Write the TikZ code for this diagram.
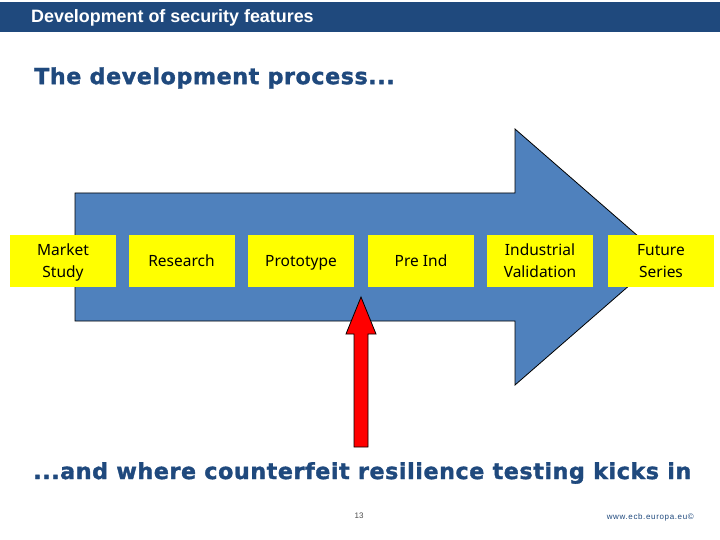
\documentclass[tikz,border=0pt]{standalone}
\usepackage{fontspec}
\setmainfont{Liberation Sans}
\newfontfamily\boxfont{Noto Sans}
\newfontfamily\headfont{DejaVu Sans}[LetterSpace=2.6,FakeBold=1.5]
\definecolor{navy}{HTML}{1F497D}
\definecolor{arrowblue}{HTML}{4F81BD}
\definecolor{boxyellow}{HTML}{FFFF00}
\tikzset{
  px/.style={x=1pt,y=-1pt},
  stage/.style={fill=boxyellow,draw=none,minimum width=106pt,minimum height=52pt,inner sep=0pt,align=center,
    font=\boxfont\fontsize{15.5}{22}\selectfont,text=black},
  heading/.style={anchor=west,inner sep=0pt,text=navy,font=\headfont\bfseries\fontsize{22.2}{26}\selectfont},
  flow/.style={fill=arrowblue,draw=black,line width=0.8pt,line join=miter},
  marker/.style={fill=red,draw=black,line width=0.8pt,line join=miter},
}
\begin{document}
\begin{tikzpicture}[px]
\useasboundingbox (0,0) rectangle (720,540);
\fill[white] (0,0) rectangle (720,540);
\fill[navy] (0,2) rectangle (720,32);
\node[anchor=west,inner sep=0pt,text=white,font=\bfseries\fontsize{17.9}{20}\selectfont] (bar) at (31,17.6) {Development of security features};
\node[heading] (top) at (34,78) {The development process...};
\draw[flow] (75,193) -- (515,193) -- (515,129) -- (662,257) -- (515,385) -- (515,321) -- (75,321) -- cycle;
\node[stage] (s1) at (63,261) {};
\node[stage] (s2) at (181.5,261) {};
\node[stage] (s3) at (301,261) {};
\node[stage] (s4) at (421,261) {};
\node[stage] (s5) at (540,261) {};
\node[stage] (s6) at (661,261) {};
\node[stage,fill=none] at (63,262.5) {\strut Market\\\strut Study};
\node[stage,fill=none] at (181.5,262.5) {\strut Research};
\node[stage,fill=none] at (301,262.5) {\strut Prototype};
\node[stage,fill=none] at (421,262.5) {\strut Pre Ind};
\node[stage,fill=none] at (540,262.5) {\strut Industrial\\\strut Validation};
\node[stage,fill=none] at (661,262.5) {\strut Future\\\strut Series};
\draw[marker] (361,297) -- (376,334) -- (368,334) -- (368,447) -- (354,447) -- (354,334) -- (346,334) -- cycle;
\node[heading] (bottom) at (33,473) {...and where counterfeit resilience testing kicks in};
\node[inner sep=0pt,text=black!70,font=\fontsize{8}{10}\selectfont] (page) at (359,516) {13};
\node[anchor=east,inner sep=0pt,text=navy,font=\fontsize{8}{10}\selectfont\addfontfeature{LetterSpace=8}] (url) at (694,517) {www.ecb.europa.eu©};
\end{tikzpicture}
\end{document}
